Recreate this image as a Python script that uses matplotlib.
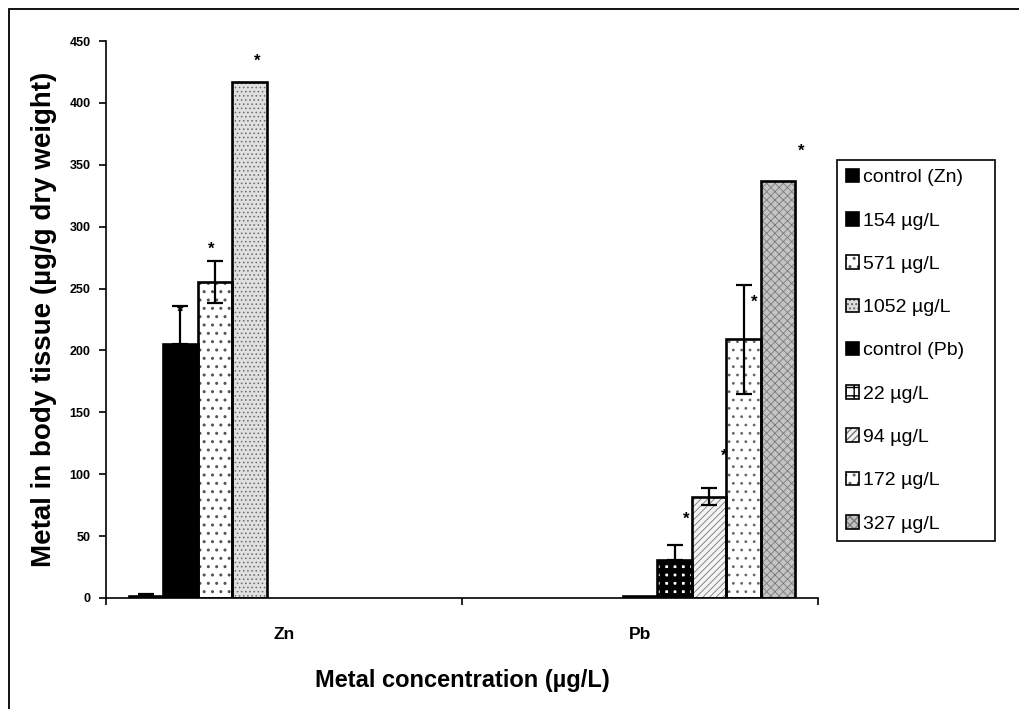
import matplotlib
matplotlib.use("Agg")
import matplotlib.pyplot as plt
import matplotlib.patches as mpatches
import numpy as np

plt.rcParams['font.family'] = ['Liberation Sans', 'DejaVu Sans']

# data
metals = ['Zn', 'Pb']
series = ['control (Zn)', '154 µg/L', '571 µg/L', '1052 µg/L',
          'control (Pb)', '22 µg/L', '94 µg/L', '172 µg/L', '327 µg/L']
series_metal = [0, 0, 0, 0, 1, 1, 1, 1, 1]
means = [2, 205, 255, 417, 1.5, 31, 82, 209, 337]
err_low = [0, 0, 17, 0, 0, 0, 6.5, 44, 0]
err_high = [1.5, 31, 17, 0, 0, 12, 6.5, 44, 0]
significant = [False, True, True, True, False, True, True, True, True]

# look of each series: face, hatch, hatch colour, hatch line width
styles = [
    ('black', None, 'black', 1.0),
    ('black', None, 'black', 1.0),
    ('white', '..', '#555555', 1.0),
    ('#e0e0e0', '....', '#6a6a6a', 0.6),
    ('black', None, 'black', 1.0),
    ('white', '++', 'black', 4.0),
    ('#f4f4f4', '/////', '#777777', 0.6),
    ('white', '..', '#666666', 0.8),
    ('#c4c4c4', 'xxxx', '#7a7a7a', 0.6),
]
# where each asterisk sits relative to the top of its bar / error bar (pixels)
star_offsets = [None, (0, -6), (-4, 12), (8, 21), None,
                (12, 26), (15, 32), (11, -17), (23, 30)]

W, H = 1019, 709
fig = plt.figure(figsize=(W / 100, H / 100), dpi=100)
ax = fig.add_axes([106 / W, 1 - 598 / H, (818 - 106) / W, (598 - 41) / H])

width = 0.097
n = len(series)
handles = []
for i in range(n):
    x = series_metal[i] + (i - (n - 1) / 2) * width
    face, hatch, hcol, hlw = styles[i]
    fill = ax.bar(x, means[i], width, color=face, edgecolor=hcol,
                  hatch=hatch, linewidth=0, zorder=2)
    for p in fill.patches:
        if hasattr(p, 'set_hatch_linewidth'):
            p.set_hatch_linewidth(hlw)
    ax.bar(x, means[i], width, facecolor='none', edgecolor='black',
           linewidth=1.9, zorder=3)
    if err_low[i] or err_high[i]:
        ax.errorbar(x, means[i], yerr=[[err_low[i]], [err_high[i]]],
                    fmt='none', ecolor='black', elinewidth=1.6,
                    capsize=6, capthick=1.6, zorder=4)
    if significant[i]:
        top = means[i] + err_high[i]
        ax.annotate('*', xy=(x, top), xytext=star_offsets[i],
                    textcoords='offset pixels', ha='center', va='center',
                    fontsize=12, fontweight='bold', zorder=5)

    fp = mpatches.Patch(facecolor=face, edgecolor=hcol, hatch=hatch, linewidth=0)
    if hasattr(fp, 'set_hatch_linewidth'):
        fp.set_hatch_linewidth(min(hlw, 2.0))
    op = mpatches.Patch(facecolor='none', edgecolor='black', linewidth=1.2)
    handles.append((fp, op))

ax.set_xlim(-0.5, 1.5)
ax.set_ylim(0, 450)
ax.set_yticks(np.arange(0, 451, 50))
ax.set_xticks([-0.5, 0.5, 1.5])
ax.set_xticklabels([])
ax.set_xticks([0, 1], minor=True)
ax.set_xticklabels(metals, minor=True, fontsize=12.5, fontweight='bold')
ax.tick_params(axis='x', which='minor', length=0, pad=21)
ax.tick_params(axis='x', which='major', length=5, width=1.2, direction='out')
ax.tick_params(axis='y', length=5, width=1.2, direction='out', pad=6,
               labelsize=9)
for t in ax.get_yticklabels():
    t.set_fontweight('bold')
for s in ['top', 'right']:
    ax.spines[s].set_visible(False)
for s in ['left', 'bottom']:
    ax.spines[s].set_linewidth(1.2)

ax.set_ylabel('Metal in body tissue (µg/g dry weight)', fontsize=20,
              fontweight='bold', labelpad=9)
ax.set_xlabel('Metal concentration (µg/L)', fontsize=17, fontweight='bold',
              labelpad=19)

leg = fig.legend(handles, series, loc='upper left',
                 bbox_to_anchor=(837 / W, 1 - 160 / H, (995 - 837) / W, 0.0),
                 bbox_transform=fig.transFigure, mode='expand',
                 fontsize=14, frameon=True, fancybox=False, shadow=False,
                 edgecolor='black', framealpha=1, borderaxespad=0,
                 labelspacing=1.32, handlelength=0.7, handleheight=0.7,
                 handletextpad=0.2, borderpad=0.45)
leg.get_frame().set_linewidth(1.2)

# outer border of the chart area
fig.patches.append(mpatches.Rectangle((9 / W, -0.05), 1.2, 1 - 9 / H + 0.05,
                                      transform=fig.transFigure, fill=False,
                                      edgecolor='black', linewidth=1.3))

fig.savefig('out.png', dpi=100)
